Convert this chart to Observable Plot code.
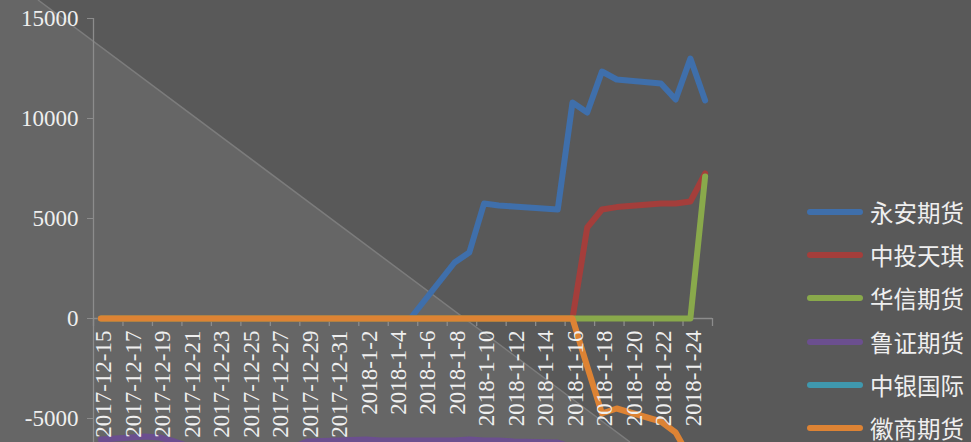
<!DOCTYPE html>
<html>
<head>
<meta charset="utf-8">
<script src="https://cdn.jsdelivr.net/npm/d3@7"></script>
<script src="https://cdn.jsdelivr.net/npm/@observablehq/plot@0.6"></script>
<style>
  html, body { margin: 0; padding: 0; background: #595959; overflow: hidden; }
  #wrap { position: relative; width: 971px; height: 442px; background: #595959; overflow: hidden; }
  #bg { position: absolute; left: 0; top: 0; }
  #chart { position: absolute; left: 0; top: 0; }
  #legend { position: absolute; left: 807px; top: 190px; font-family: "Noto Sans CJK SC", sans-serif; font-size: 23.5px; color: #efefef; white-space: nowrap; }
  .row { height: 43.3px; display: flex; align-items: center; }
  .sw { width: 56px; height: 6px; border-radius: 3px; margin-right: 7px; flex: none; }
</style>
</head>
<body>
<div id="wrap">
  <svg id="bg" width="971" height="442">
    <polygon points="0,0 38,0 630,442 0,442" fill="#666666"></polygon>
    <line x1="38" y1="0" x2="630" y2="442" stroke="#7c7c7c" stroke-width="1.5"></line>
  </svg>
  <div id="chart"></div>
  <div id="legend"></div>
</div>
<script>
const dates = ["2017-12-15","2017-12-18","2017-12-19","2017-12-20","2017-12-21","2017-12-22",
  "2017-12-25","2017-12-26","2017-12-27","2017-12-28","2017-12-29",
  "2018-01-02","2018-01-03","2018-01-04","2018-01-05",
  "2018-01-08","2018-01-09","2018-01-10","2018-01-11","2018-01-12",
  "2018-01-15","2018-01-16","2018-01-17","2018-01-18","2018-01-19",
  "2018-01-22","2018-01-23","2018-01-24","2018-01-25"];

const names = ["永安期货","中投天琪","华信期货","鲁证期货","中银国际","徽商期货"];
const colors = ["#3f6fab","#a43e3b","#89a94b","#6b4f8f","#3f98ae","#dd8334"];

const yongan  = [0,0,0,0,0,0, 0,0,0,0,0, 0,0,0,0, 2800,3300,5750,5650,5600, 5450,10800,10300,12350,11950, 11750,10950,13000,10900];
const zhongtou= [0,0,0,0,0,0, 0,0,0,0,0, 0,0,0,0, 0,0,0,0,0, 0,0,4550,5450,5570, 5750,5750,5850,7250];
const huaxin  = [0,0,0,0,0,0, 0,0,0,0,0, 0,0,0,0, 0,0,0,0,0, 0,0,0,0,0, 0,0,0,7100];
const luzheng = [-6050,-5900,-5950,-6150,-6400,-6500, -6550,-6550,-6500,-6450,-6150, -6050,-6100,-6100,-6100, -6100,-6050,-6100,-6100,-6150, -6200,-6450,-6550,-6550,-6600, -6600,-6650,-6650,-6650];
const zhongyin= [-7800,-7800,-7850,-7850,-7900,-7900, -7900,-7950,-7950,-7950,-7900, -7900,-7900,-7850,-7850, -7850,-7900,-7900,-7900,-7950, -7950,-7950,-8000,-8000,-8000, -8000,-8050,-8050,-8050];
const huishang= [0,0,0,0,0,0, 0,0,0,0,0, 0,0,0,0, 0,0,0,0,0, 0,0,-2400,-4750,-4500, -5150,-5700,-7000,-7500];

const seriesValues = [yongan, zhongtou, huaxin, luzheng, zhongyin, huishang];

const xLabels = ["2017-12-15","2017-12-17","2017-12-19","2017-12-21","2017-12-23","2017-12-25",
  "2017-12-27","2017-12-29","2017-12-31","2018-1-2","2018-1-4","2018-1-6","2018-1-8",
  "2018-1-10","2018-1-12","2018-1-14","2018-1-16","2018-1-18","2018-1-20","2018-1-22","2018-1-24"];
const yTicks = [-5000, 0, 5000, 10000, 15000];

const parseDay = s => { const [y,m,d] = s.split("-").map(Number); return new Date(Date.UTC(y, m-1, d)); };
const noon = s => new Date(parseDay(s).getTime() + 12*3600e3);

const rows = [];
names.forEach((n, i) => dates.forEach((d, j) => rows.push({name: n, date: noon(d), value: seriesValues[i][j]})));

const xStart = parseDay("2017-12-15");
const xEnd = parseDay("2018-1-26");
const tickBounds = d3.utcDays(xStart, new Date(xEnd.getTime() + 1), 2);

const labelRows = xLabels.map(s => ({date: noon(s), label: s}));

const axisColor = "#8c8c8c";
const textColor = "#efefef";

const chart = Plot.plot({
  width: 971,
  height: 442,
  marginLeft: 93,
  marginRight: 259,
  marginTop: 18,
  marginBottom: 0,
  x: {type: "utc", domain: [xStart, xEnd], axis: null},
  y: {domain: [-6200, 15000], axis: null},
  color: {domain: names, range: colors},
  style: {background: "transparent", fontFamily: "'Liberation Serif', 'Times New Roman', serif", fontSize: "23px", color: textColor, overflow: "visible"},
  marks: [
    Plot.ruleX([xStart], {stroke: axisColor, strokeWidth: 1.3}),
    Plot.ruleY([0], {stroke: axisColor, strokeWidth: 1.3}),
    Plot.ruleX(tickBounds, {x: d => d, y1: 0, y2: -400, stroke: axisColor, strokeWidth: 1.3}),
    Plot.axisY({ticks: yTicks, tickSize: 6, tickPadding: 9, tickFormat: d => String(d), label: null, stroke: axisColor, fill: textColor, fontSize: 23}),
    Plot.line(rows, {x: "date", y: "value", z: "name", stroke: "name", strokeWidth: 6, strokeLinecap: "round", strokeLinejoin: "round", clip: true}),
    Plot.text(labelRows, {x: "date", y: 0, text: "label", rotate: -90, textAnchor: "end", lineAnchor: "middle", dx: 3, dy: 12, fill: textColor, fontSize: 23})
  ]
});
document.getElementById("chart").appendChild(chart);

const legend = document.getElementById("legend");
names.forEach((n, i) => {
  const row = document.createElement("div");
  row.className = "row";
  const sw = document.createElement("div");
  sw.className = "sw";
  sw.style.background = colors[i];
  const t = document.createElement("span");
  t.textContent = n;
  row.appendChild(sw);
  row.appendChild(t);
  legend.appendChild(row);
});
</script>
</body>
</html>
